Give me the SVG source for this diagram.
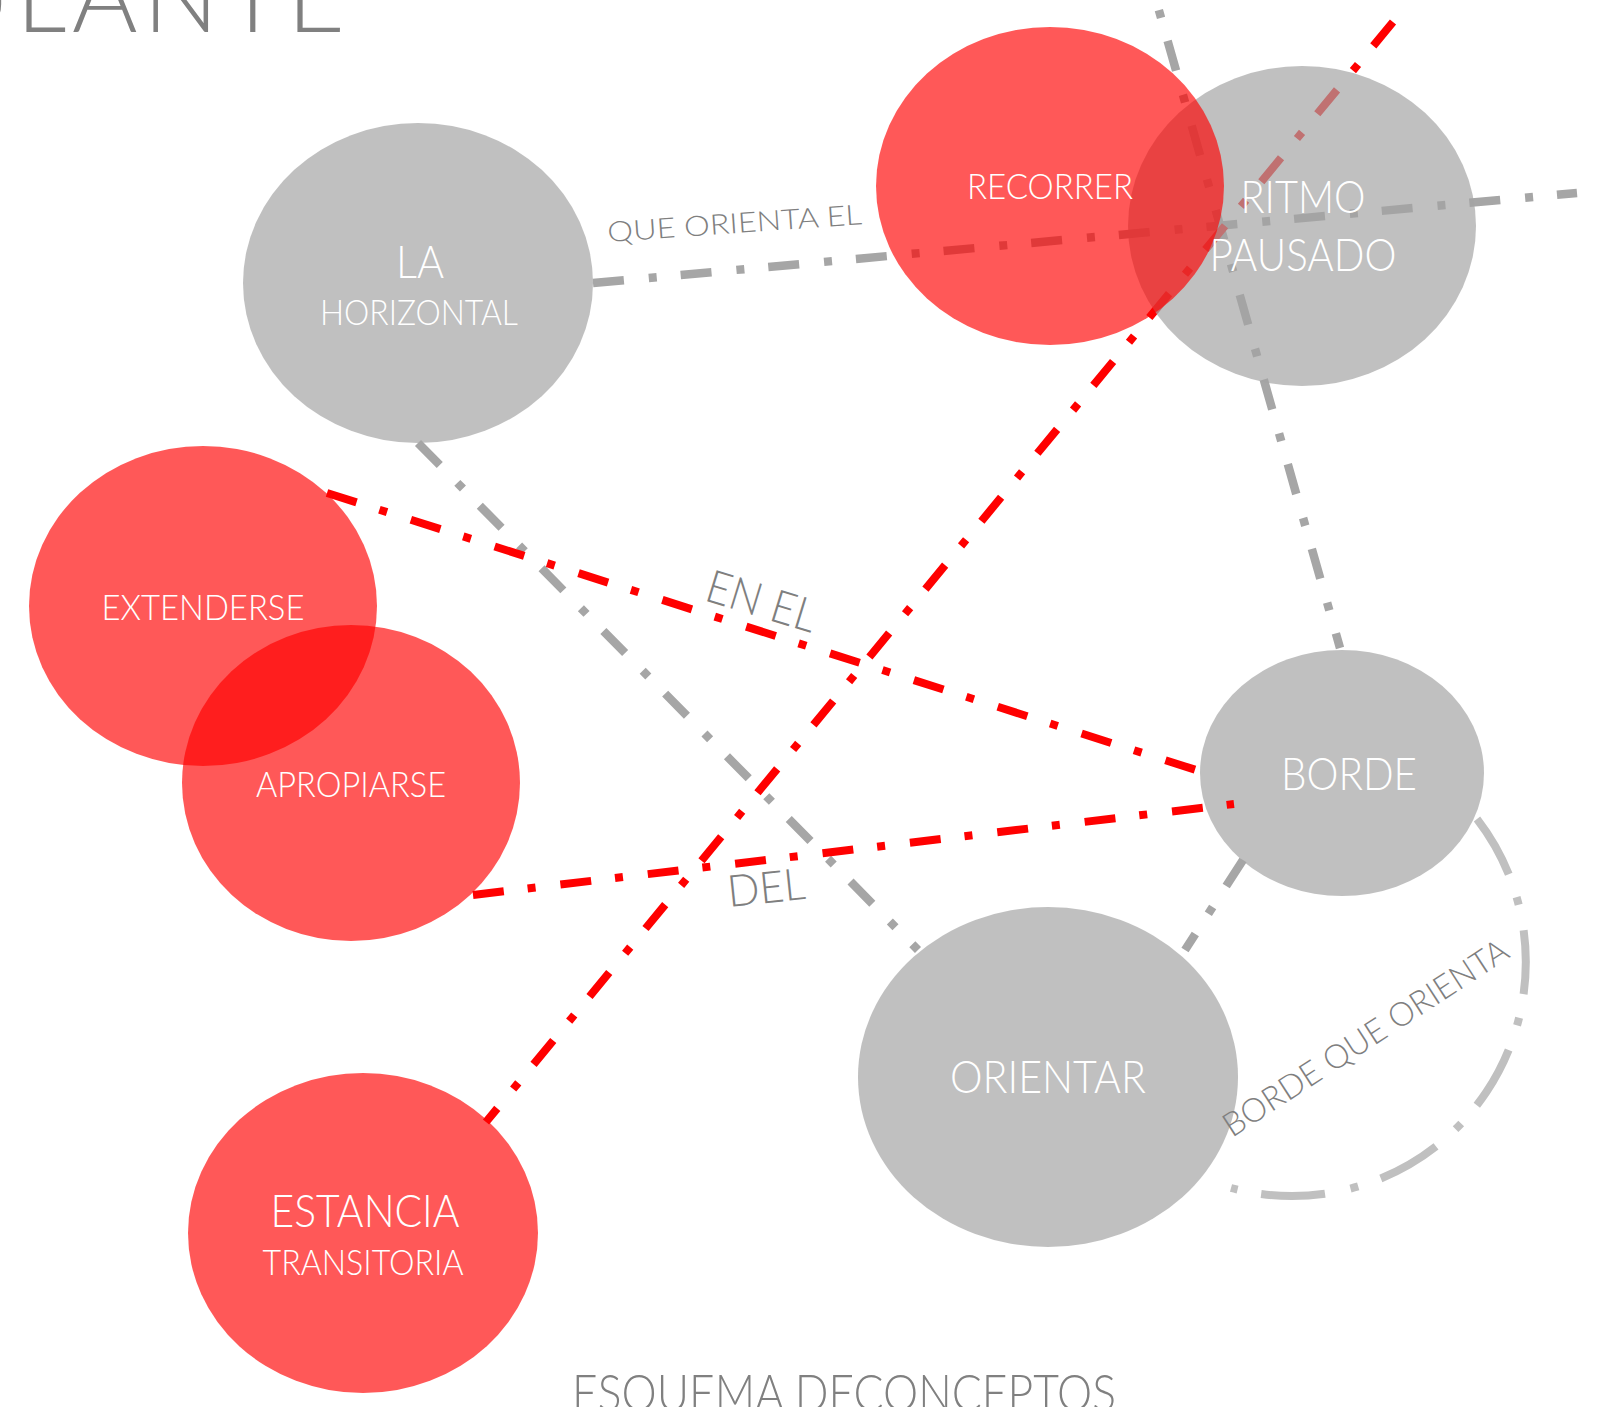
<svg xmlns="http://www.w3.org/2000/svg" width="1616" height="1407" viewBox="0 0 1616 1407">
<style>
text{font-family:"Lato","Open Sans","Liberation Sans",sans-serif;font-weight:300;}
.lbl{fill:#ffffff;text-anchor:middle;}
.big{font-size:46px;}
.sm{font-size:36px;}
.cl{fill:#7f7f7f;}
.gray{fill:#a3a3a3;fill-opacity:0.69;}
.red{fill:#ff0000;fill-opacity:0.655;}
.lg{fill:none;stroke:#a6a6a6;stroke-width:8.5;stroke-dasharray:31 25 8 24;}
.lr{fill:none;stroke:#ff0000;stroke-width:8;stroke-dasharray:31 24 8 25;}
.arc{fill:none;stroke:#c0c0c0;stroke-width:8;stroke-dasharray:64 24 8 26;}
</style>
<rect width="1616" height="1407" fill="#ffffff"/>
<text x="-62" y="32" font-size="100" fill="#808080" textLength="407" lengthAdjust="spacing">ULANTE</text>
<g id="la-horizontal">
<ellipse class="gray" cx="418" cy="283" rx="175" ry="160"/>
<text class="lbl big" x="420" y="278" textLength="48" lengthAdjust="spacingAndGlyphs">LA</text>
<text class="lbl sm" x="419" y="325" textLength="198" lengthAdjust="spacingAndGlyphs">HORIZONTAL</text>
</g>
<g id="extenderse">
<ellipse class="red" cx="203" cy="606" rx="174" ry="160"/>
<text class="lbl sm" x="203" y="620" textLength="203" lengthAdjust="spacingAndGlyphs">EXTENDERSE</text>
</g>
<g id="apropiarse">
<ellipse class="red" cx="351" cy="783" rx="169" ry="158"/>
<text class="lbl sm" x="351" y="797" textLength="190" lengthAdjust="spacingAndGlyphs">APROPIARSE</text>
</g>
<g id="borde">
<ellipse class="gray" cx="1342" cy="773" rx="142" ry="123"/>
<text class="lbl big" x="1349" y="790" textLength="136" lengthAdjust="spacingAndGlyphs">BORDE</text>
</g>
<g id="orientar">
<ellipse class="gray" cx="1048" cy="1077" rx="190" ry="170"/>
<text class="lbl big" x="1048" y="1093" textLength="196" lengthAdjust="spacingAndGlyphs">ORIENTAR</text>
</g>
<g id="estancia-transitoria">
<ellipse class="red" cx="363" cy="1233" rx="175" ry="160"/>
<text class="lbl big" x="365" y="1227" textLength="189" lengthAdjust="spacingAndGlyphs">ESTANCIA</text>
<text class="lbl sm" x="363" y="1275" textLength="201" lengthAdjust="spacingAndGlyphs">TRANSITORIA</text>
</g>
<g id="connectors">
<path class="lg" d="M593 283 L1577 193"/>
<path class="lg" d="M1156 0 L1340 648" stroke-dashoffset="45.5"/>
<path class="lg" d="M418 443 L918 950"/>
<path class="lg" d="M1243 860 L1185 950"/>
<path class="arc" d="M1477 819 A234 234 0 0 1 1231 1188"/>
<path class="lr" d="M327 493 L1196 770"/>
<path class="lr" d="M473 895 L1234 804"/>
<path class="lr" d="M1393 22 L486 1122"/>
<text class="cl" font-size="28" x="608" y="242" transform="rotate(-4 608 242)" textLength="255" lengthAdjust="spacingAndGlyphs">QUE ORIENTA EL</text>
<text class="cl" font-size="46" x="703" y="600" transform="rotate(17 703 600)" textLength="113" lengthAdjust="spacingAndGlyphs">EN EL</text>
<text class="cl" font-size="44" x="729" y="907" transform="rotate(-6 729 907)" textLength="78" lengthAdjust="spacingAndGlyphs">DEL</text>
<text class="cl" font-size="33" x="1232" y="1138" transform="rotate(-33 1232 1138)" textLength="333" lengthAdjust="spacingAndGlyphs">BORDE QUE ORIENTA</text>
</g>
<g id="ritmo-pausado">
<ellipse class="gray" cx="1302" cy="226" rx="174" ry="160"/>
<text class="lbl big" x="1303" y="213" textLength="125" lengthAdjust="spacingAndGlyphs">RITMO</text>
<text class="lbl big" x="1303" y="271" textLength="187" lengthAdjust="spacingAndGlyphs">PAUSADO</text>
</g>
<g id="recorrer">
<ellipse class="red" cx="1050" cy="186" rx="174" ry="159"/>
<text class="lbl sm" x="1050" y="199" textLength="166" lengthAdjust="spacingAndGlyphs">RECORRER</text>
</g>
<text x="572" y="1411" font-size="52" fill="#808080" textLength="544" lengthAdjust="spacingAndGlyphs">ESQUEMA DECONCEPTOS</text>
</svg>
